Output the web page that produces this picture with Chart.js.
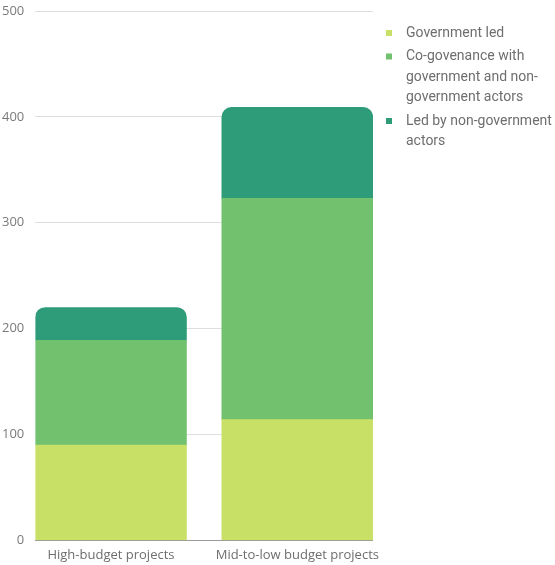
<!DOCTYPE html>
<html>
<head>
<meta charset="utf-8">
<script src="https://cdn.jsdelivr.net/npm/chart.js@4.4.0/dist/chart.umd.min.js"></script>
<style>
  html,body{margin:0;padding:0;background:#fff}
  #wrap{width:555px;height:565px;position:relative}
</style>
</head>
<body>
<div id="wrap"><canvas id="c"></canvas></div>
<script>
// data
const categories=['High-budget projects','Mid-to-low budget projects'];
const govLed=[90,114];
const coGov=[99,209];
const nonGov=[31,86];
const yTicks=[0,100,200,300,400,500];
const legendText=[
  ['Government led'],
  ['Co-govenance with','government and non-','government actors'],
  ['Led by non-government','actors']
];
const colors=['#c9e067','#72c16f','#2e9c78'];

const pts=vals=>categories.map((c,i)=>({x:i,y:vals[i]}));
const mk=(vals,i)=>({
  label:legendText[i].join(' '),
  data:pts(vals),
  backgroundColor:colors[i],
  borderWidth:0,
  borderRadius:10,
  borderSkipped:'start',
  barThickness:151
});

// legend drawn beside the plot (the built-in one gets squeezed to half width)
const sideLegend={
  id:'sideLegend',
  afterDraw(chart){
    const {ctx,chartArea}=chart;
    const lh=20.5;
    let y=chartArea.top+22;
    const bx=chartArea.right+13, tx=chartArea.right+33;
    ctx.save();
    ctx.font='14px Roboto';
    ctx.textBaseline='middle';
    legendText.forEach((lines,i)=>{
      ctx.fillStyle=chart.data.datasets[i].backgroundColor;
      ctx.fillRect(bx,y-3,6,6);
      ctx.fillStyle='#6e6e6e';
      lines.forEach((t,k)=>ctx.fillText(t,tx,y+k*lh));
      y+=lines.length*lh+3;
    });
    ctx.restore();
  }
};

new Chart(document.getElementById('c'),{
  type:'bar',
  data:{datasets:[mk(govLed,0),mk(coGov,1),mk(nonGov,2)]},
  options:{
    responsive:true,maintainAspectRatio:false,animation:false,
    layout:{padding:{top:0,bottom:-5,left:-9,right:182}},
    plugins:{tooltip:{enabled:false},legend:{display:false}},
    scales:{
      x:{
        type:'linear',stacked:true,offset:false,min:-0.406,max:1.406,
        grid:{display:false,drawTicks:false},border:{display:false},
        afterBuildTicks(ax){ax.ticks=categories.map((c,i)=>({value:i}));},
        ticks:{callback:v=>categories[v],color:'#6e6e6e',padding:7,maxRotation:0,autoSkip:false,
          font:{family:'Open Sans',size:13}}
      },
      y:{
        stacked:true,min:0,max:500,
        afterBuildTicks(ax){ax.ticks=yTicks.map(v=>({value:v}));},
        afterFit(ax){ax.paddingTop=11;},
        grid:{drawTicks:false,color:c=>c.tick&&c.tick.value===0?'#9a9a9a':'#dedede',lineWidth:1},
        border:{display:false},
        ticks:{color:'#7a7a7a',padding:11,font:{family:'Open Sans',size:13}}
      }
    }
  },
  plugins:[sideLegend]
});
</script>
</body>
</html>
